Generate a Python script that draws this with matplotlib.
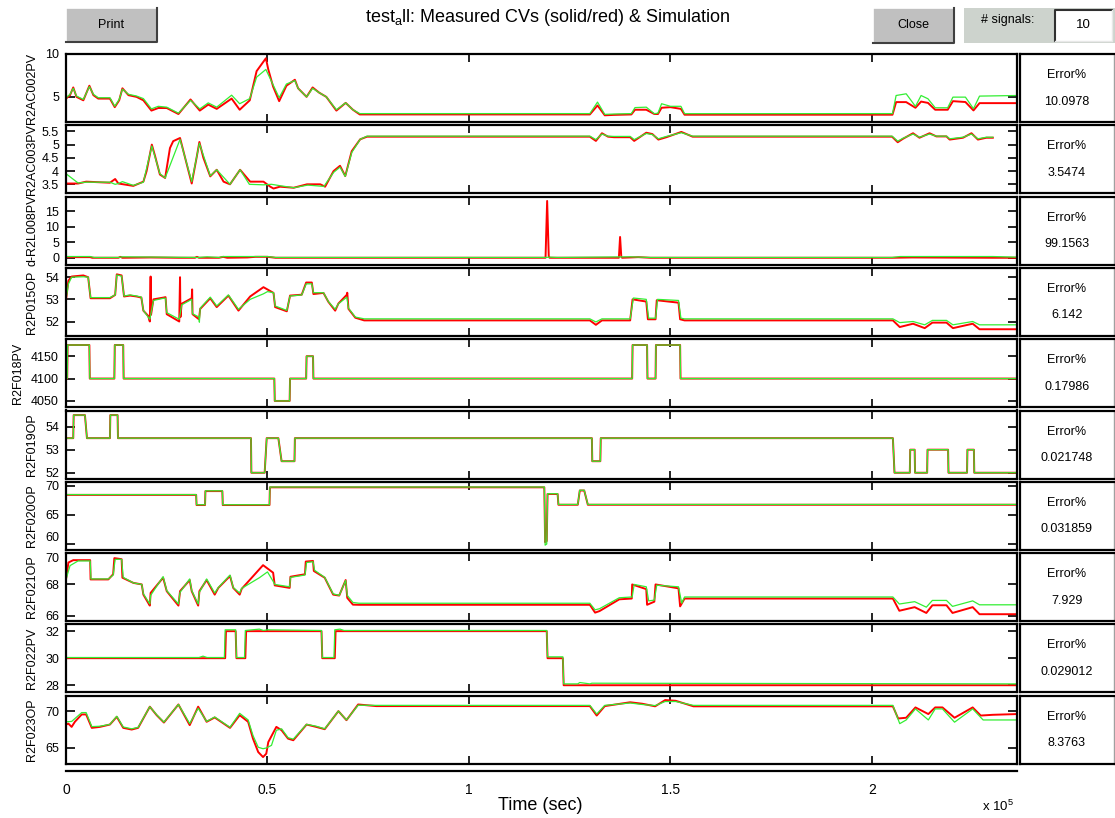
# Measured CVs (red) vs simulation (green), 10 stacked signal panels
import matplotlib
matplotlib.use('Agg')
import matplotlib.pyplot as plt
from matplotlib.patches import Rectangle

plt.rcParams['font.family'] = ['Liberation Sans', 'DejaVu Sans']
plt.rcParams['mathtext.fontset'] = 'custom'
plt.rcParams['mathtext.rm'] = 'Liberation Sans'
plt.rcParams['mathtext.it'] = 'Liberation Sans'

# signal names and error numbers
names = ['R2AC002PV', 'R2AC003PV', 'd-R2L008PV', 'R2P015OP', 'R2F018PV',
         'R2F019OP', 'R2F020OP', 'R2F021OP', 'R2F022PV', 'R2F023OP']
errors = ['10.0978', '3.5474', '99.1563', '6.142', '0.17986',
          '0.021748', '0.031859', '7.929', '0.029012', '8.3763']
yticks = [[5, 10], [3.5, 4, 4.5, 5, 5.5], [0, 5, 10, 15], [52, 53, 54],
          [4050, 4100, 4150], [52, 53, 54], [60, 65, 70], [66, 68, 70],
          [28, 30, 32], [65, 70]]
ylims = [(2.07, 10), (3.16, 5.73), (-2.2, 19.7), (51.35, 54.42), (4036, 4188),
         (51.75, 54.7), (59.0, 70.7), (65.66, 70.0), (27.47, 32.5), (62.87, 72.09)]
xticks = [0, 0.5, 1, 1.5, 2]

# time in units of 1e5 s
t1 = [0, .01, .018, .026, .043, .058, .068, .08, .109, .121, .132, .14, .155, .175, .192, .212, .229, .25,
      .279, .309, .332, .353, .374, .411, .431, .456, .473, .496, .502, .514, .529, .547, .568, .576, .597,
      .612, .628, .646, .671, .694, .712, .729, 1.30, 1.319, 1.337, 1.36, 1.403, 1.412, 1.44, 1.46, 1.469,
      1.478, 1.50, 1.526, 1.535, 2.051, 2.06, 2.085, 2.108, 2.122, 2.139, 2.157, 2.188, 2.201, 2.232,
      2.252, 2.267, 2.36]
m1 = [4.8, 5.2, 6.1, 5.0, 4.6, 6.3, 5.2, 4.8, 4.8, 3.8, 4.6, 6.0, 5.2, 5.0, 4.6, 3.4, 3.7, 3.7, 3.0, 4.7,
      3.4, 4.1, 3.6, 4.8, 3.5, 4.6, 8.0, 9.5, 8.2, 6.2, 4.5, 6.3, 7.0, 6.0, 5.0, 6.1, 5.5, 5.0, 3.4, 4.3,
      3.5, 2.95, 2.95, 4.0, 2.85, 2.9, 2.95, 3.5, 3.5, 3.0, 3.0, 3.73, 3.8, 3.6, 2.92, 2.92, 4.39, 4.39,
      3.73, 4.45, 4.3, 3.5, 3.5, 4.5, 4.4, 3.42, 4.27, 4.27]
s1 = [4.9, 5.3, 6.0, 5.1, 4.7, 6.2, 5.3, 4.9, 4.9, 3.9, 4.7, 5.9, 5.3, 5.1, 4.8, 3.6, 3.9, 3.8, 3.1, 4.6,
      3.6, 4.3, 3.8, 5.2, 4.2, 4.8, 7.3, 8.2, 7.6, 6.4, 4.9, 6.5, 6.9, 6.0, 5.0, 6.0, 5.5, 5.0, 3.5, 4.3,
      3.5, 3.05, 3.05, 4.39, 2.96, 3.0, 3.05, 3.75, 3.8, 3.04, 3.1, 4.2, 3.9, 3.9, 3.04, 3.05, 5.16, 5.36,
      3.89, 5.16, 4.78, 3.73, 3.73, 4.97, 4.97, 3.62, 5.09, 5.16]

t2m = [0, .03, .05, .109, .122, .13, .167, .192, .2, .213, .221, .233, .246, .258, .266, .283, .3, .312,
       .324, .331, .341, .358, .374, .391, .407, .432, .457, .49, .507, .515, .531, .565, .598, .631, .643,
       .664, .68, .693, .709, .73, .747, 1.30, 1.315, 1.33, 1.345, 1.36, 1.40, 1.41, 1.44, 1.455, 1.47,
       1.49, 1.527, 1.555, 2.05, 2.064, 2.077, 2.102, 2.118, 2.143, 2.16, 2.185, 2.193, 2.226, 2.247,
       2.263, 2.284, 2.30]
m2 = [3.53, 3.53, 3.6, 3.56, 3.7, 3.53, 3.44, 3.6, 4.0, 5.0, 4.57, 3.87, 3.74, 4.87, 5.13, 5.25, 4.24,
      3.53, 4.5, 5.1, 4.5, 3.8, 4.05, 3.6, 3.5, 4.05, 3.6, 3.6, 3.41, 3.34, 3.41, 3.37, 3.5, 3.5, 3.41,
      4.0, 4.2, 3.81, 4.75, 5.2, 5.3, 5.3, 5.14, 5.43, 5.3, 5.28, 5.28, 5.14, 5.45, 5.4, 5.19, 5.28, 5.48,
      5.3, 5.3, 5.09, 5.22, 5.43, 5.26, 5.43, 5.31, 5.31, 5.19, 5.26, 5.43, 5.19, 5.26, 5.26]
t2s = [0, .03, .05, .109, .122, .13, .14, .167, .192, .213, .233, .246, .283, .312, .331, .358, .374,
       .407, .432, .455, .49, .51, .53, .565, .60, .64, .664, .68, .693, .709, .73, .747, 1.30, 1.315,
       1.33, 1.345, 1.36, 1.40, 1.41, 1.44, 1.455, 1.47, 1.49, 1.527, 1.555, 2.05, 2.064, 2.077, 2.102,
       2.118, 2.143, 2.16, 2.185, 2.193, 2.226, 2.247, 2.263, 2.284, 2.30]
s2 = [3.9, 3.55, 3.58, 3.58, 3.5, 3.53, 3.6, 3.46, 3.58, 4.95, 3.9, 3.74, 5.2, 3.6, 5.05, 3.82, 4.05,
      3.5, 4.05, 3.5, 3.48, 3.5, 3.45, 3.37, 3.47, 3.42, 3.95, 4.15, 3.8, 4.7, 5.2, 5.32, 5.32, 5.19, 5.4,
      5.32, 5.31, 5.31, 5.19, 5.42, 5.38, 5.22, 5.31, 5.45, 5.32, 5.32, 5.13, 5.24, 5.4, 5.28, 5.4, 5.32,
      5.32, 5.22, 5.28, 5.4, 5.22, 5.28, 5.28]

t3m = [0, .06, .065, .13, .135, .14, .21, .28, .32, .325, .33, .38, .39, .40, .45, .47, .5, .52, 1.19,
       1.194, 1.198, 1.20, 1.372, 1.375, 1.378, 1.38, 1.42, 1.45, 2.05, 2.1, 2.3, 2.36]
m3 = [0.2, 0.2, 0.0, 0.0, 0.3, 0.0, 0.1, 0.0, 0.0, 0.3, 0.0, 0.0, 0.3, 0.0, 0.1, 0.3, 0.3, 0.0, 0.0,
      18.3, 0.5, 0.0, 0.0, 6.7, 0.3, 0.0, 0.2, 0.0, 0.0, 0.1, 0.0, 0.0]
t3s = [0, .06, .07, .13, .14, .33, .35, .38, .39, .5, .52, 1.19, 1.2, 1.22, 1.4, 1.45, 2.05, 2.07, 2.3, 2.36]
s3 = [0.4, 0.4, 0.1, 0.1, 0.3, 0.1, 0.3, 0.1, 0.4, 0.4, 0.1, 0.1, 0.2, 0.1, 0.3, 0.1, 0.1, 0.4, 0.4, 0.2]

t4m = [0, .006, .014, .043, .055, .061, .109, .122, .126, .138, .144, .159, .175, .187, .192, .204, .208,
       .21, .211, .217, .242, .247, .25, .281, .283, .284, .287, .312, .313, .314, .33, .333, .358, .374,
       .403, .428, .457, .49, .515, .519, .548, .556, .585, .596, .61, .614, .639, .651, .668, .676, .697,
       .698, .701, .718, .74, 1.30, 1.315, 1.33, 1.40, 1.406, 1.44, 1.444, 1.463, 1.466, 1.52, 1.524,
       1.535, 2.052, 2.069, 2.102, 2.131, 2.15, 2.185, 2.201, 2.25, 2.267, 2.36]
m4 = [52.97, 53.84, 54.03, 54.08, 54.0, 53.05, 53.05, 53.2, 54.13, 54.08, 53.13, 53.17, 53.13, 53.08,
      52.49, 52.25, 52.0, 54.03, 52.3, 53.0, 53.08, 53.1, 52.33, 52.0, 54.0, 52.2, 52.8, 53.05, 53.45,
      52.33, 52.1, 52.57, 53.05, 52.65, 53.17, 52.49, 53.13, 53.55, 53.29, 52.65, 52.46, 53.17, 53.21,
      53.76, 53.76, 53.24, 53.29, 52.89, 52.49, 52.81, 53.21, 53.3, 52.57, 52.17, 52.05, 52.05, 51.85,
      52.05, 52.05, 53.0, 52.9, 52.1, 52.1, 52.96, 52.85, 52.1, 52.05, 52.05, 51.75, 51.9, 51.7, 51.95,
      51.95, 51.7, 51.9, 51.65, 51.65]
t4s = [0, .006, .014, .043, .055, .061, .109, .122, .126, .138, .144, .159, .175, .187, .192, .208, .217,
       .242, .247, .25, .281, .287, .312, .314, .33, .331, .333, .358, .374, .403, .428, .457, .49, .50,
       .515, .519, .548, .556, .585, .596, .61, .614, .639, .651, .668, .676, .697, .701, .718, .74, 1.30,
       1.315, 1.33, 1.40, 1.408, 1.44, 1.446, 1.463, 1.468, 1.52, 1.526, 1.535, 2.052, 2.069, 2.102,
       2.131, 2.15, 2.185, 2.201, 2.25, 2.267, 2.36]
s4 = [53.0, 53.7, 54.0, 54.02, 54.0, 53.08, 53.08, 53.2, 54.1, 54.05, 53.15, 53.2, 53.15, 53.1, 52.5,
      52.1, 52.95, 53.05, 53.05, 52.4, 52.1, 52.75, 53.0, 52.35, 52.2, 51.97, 52.6, 53.1, 52.7, 53.2,
      52.55, 53.0, 53.25, 53.35, 53.3, 52.7, 52.5, 53.15, 53.2, 53.7, 53.7, 53.3, 53.3, 52.9, 52.55, 52.8,
      53.1, 52.6, 52.2, 52.12, 52.12, 51.98, 52.12, 52.12, 53.06, 53.0, 52.15, 52.15, 53.0, 52.95, 52.15,
      52.12, 52.12, 51.95, 52.0, 51.85, 52.05, 52.05, 51.85, 52.0, 51.85, 51.85]

t5 = [0, .003, .004, .058, .059, .12, .121, .142, .143, .517, .518, .555, .556, .596, .597, .613, .614,
      1.405, 1.406, 1.442, 1.443, 1.463, 1.464, 1.524, 1.525, 2.36]
m5 = [4100, 4100, 4175, 4175, 4100, 4100, 4175, 4175, 4100, 4100, 4050, 4050, 4100, 4100, 4150, 4150,
      4100, 4100, 4175, 4175, 4100, 4100, 4175, 4175, 4100, 4100]
s5 = m5

t6 = [0, .018, .019, .047, .052, .109, .11, .128, .129, .459, .46, .493, .498, .527, .535, .567, .568,
      1.305, 1.306, 1.326, 1.327, 2.052, 2.056, 2.094, 2.095, 2.106, 2.107, 2.137, 2.138, 2.189, 2.19,
      2.236, 2.237, 2.253, 2.254, 2.36]
m6 = [53.5, 53.5, 54.5, 54.5, 53.5, 53.5, 54.5, 54.5, 53.5, 53.5, 52.0, 52.0, 53.5, 53.5, 52.5, 52.5,
      53.5, 53.5, 52.5, 52.5, 53.5, 53.5, 52.0, 52.0, 53.0, 53.0, 52.0, 52.0, 53.0, 53.0, 52.0, 52.0,
      53.0, 53.0, 52.0, 52.0]
s6 = m6

t7 = [0, .323, .324, .345, .346, .388, .389, .505, .506, 1.187, 1.189, 1.193, 1.195, 1.22, 1.222, 1.27,
      1.275, 1.286, 1.295, 2.36]
m7 = [68.45, 68.45, 66.7, 66.7, 69.1, 69.1, 66.7, 66.7, 69.75, 69.75, 60.3, 60.5, 68.6, 68.6, 66.75,
      66.75, 69.2, 69.2, 66.75, 66.75]
s7 = [68.5, 68.5, 66.75, 66.75, 69.15, 69.15, 66.75, 66.75, 69.8, 69.8, 59.8, 60.0, 68.65, 68.65, 66.8,
      66.8, 69.25, 69.25, 66.8, 66.8]

t8m = [0, .006, .018, .06, .061, .105, .117, .12, .138, .14, .167, .188, .192, .204, .208, .21, .241,
       .25, .279, .283, .307, .312, .328, .331, .349, .369, .378, .407, .415, .431, .436, .489, .514,
       .518, .555, .557, .593, .595, .613, .615, .642, .663, .678, .694, .698, .712, .727, 1.30, 1.313,
       1.324, 1.373, 1.404, 1.405, 1.44, 1.442, 1.46, 1.463, 1.52, 1.524, 1.535, 2.052, 2.068, 2.106,
       2.135, 2.15, 2.185, 2.2, 2.25, 2.267, 2.36]
m8 = [68.32, 69.4, 69.55, 69.55, 68.32, 68.32, 68.65, 69.68, 69.61, 68.43, 68.1, 68.0, 67.35, 66.82,
      66.65, 67.46, 68.43, 67.57, 66.65, 67.57, 68.28, 67.57, 66.65, 67.57, 68.28, 67.35, 67.78, 68.54,
      67.78, 67.35, 67.72, 69.23, 68.75, 67.94, 67.78, 68.49, 68.65, 69.46, 69.5, 68.86, 68.43, 67.35,
      67.29, 68.28, 67.14, 66.71, 66.7, 66.7, 66.2, 66.3, 67.05, 67.1, 68.0, 67.7, 66.7, 66.9, 68.0,
      67.75, 66.6, 67.1, 67.1, 66.32, 66.55, 66.18, 66.67, 66.67, 66.18, 66.55, 66.1, 66.1]
t8s = [0, .01, .03, .06, .062, .105, .117, .122, .138, .142, .167, .188, .192, .208, .21, .241, .25,
       .279, .283, .307, .312, .328, .331, .349, .369, .378, .407, .415, .431, .436, .48, .50, .514, .518,
       .555, .557, .593, .597, .613, .617, .642, .663, .678, .694, .698, .712, .727, 1.30, 1.313, 1.324,
       1.373, 1.405, 1.41, 1.44, 1.446, 1.46, 1.466, 1.52, 1.528, 1.535, 2.052, 2.068, 2.106, 2.135,
       2.15, 2.185, 2.2, 2.25, 2.267, 2.36]
s8 = [68.32, 69.2, 69.5, 69.5, 68.35, 68.35, 68.6, 69.6, 69.6, 68.45, 68.1, 68.0, 67.4, 66.75, 67.3,
      68.5, 67.6, 66.75, 67.5, 68.35, 67.6, 66.75, 67.5, 68.35, 67.45, 67.8, 68.6, 67.8, 67.45, 67.75,
      68.43, 68.8, 68.2, 68.0, 67.85, 68.45, 68.6, 69.4, 69.45, 68.9, 68.45, 67.4, 67.3, 68.25, 67.3,
      66.85, 66.8, 66.8, 66.38, 66.45, 67.15, 67.2, 68.0, 67.85, 66.95, 67.0, 67.95, 67.85, 66.8, 67.2,
      67.2, 66.75, 66.9, 66.55, 66.98, 66.98, 66.6, 66.95, 66.7, 66.7]

t9m = [0, .395, .397, .421, .423, .445, .447, .634, .636, .667, .669, 1.193, 1.195, 1.233, 1.235, 2.36]
m9 = [30, 30, 32, 32, 30, 30, 32, 32, 30, 30, 32, 32, 30, 30, 28, 28]
t9s = [0, .33, .34, .35, .393, .395, .421, .423, .443, .445, .48, .49, .5, .634, .636, .665, .667, .68,
       .69, 1.193, 1.195, 1.233, 1.235, 1.27, 1.275, 1.3, 1.305, 2.36]
s9 = [30.05, 30.05, 30.15, 30.05, 30.05, 32.1, 32.1, 30.05, 30.05, 32.05, 32.15, 32.05, 32.1, 32.05,
      30.05, 30.05, 32.1, 32.15, 32.05, 32.05, 30.1, 30.1, 28.1, 28.1, 28.2, 28.1, 28.15, 28.1]

t10m = [0, .006, .014, .022, .039, .05, .064, .084, .109, .126, .142, .163, .179, .208, .225, .243,
        .279, .307, .328, .349, .369, .407, .431, .452, .464, .477, .489, .497, .502, .522, .535, .551,
        .564, .597, .621, .642, .676, .696, .725, .77, 1.30, 1.317, 1.337, 1.40, 1.43, 1.462, 1.487,
        1.513, 1.557, 2.052, 2.065, 2.085, 2.108, 2.14, 2.157, 2.175, 2.205, 2.25, 2.27, 2.30, 2.36]
m10 = [68.18, 68.3, 67.86, 68.55, 69.55, 69.55, 67.73, 67.86, 68.18, 69.23, 67.73, 67.5, 67.73, 70.6,
       69.45, 68.45, 70.9, 68.1, 70.6, 68.55, 69.14, 67.73, 69.45, 68.55, 66.27, 64.45, 63.77, 64.23,
       65.8, 67.86, 67.41, 66.27, 66.05, 68.18, 67.86, 67.55, 70.0, 68.77, 70.9, 70.68, 70.68, 69.4,
       70.68, 71.2, 71.0, 70.65, 71.5, 71.4, 70.65, 70.65, 69.0, 69.1, 70.5, 69.6, 70.5, 70.5, 69.1,
       70.5, 69.4, 69.5, 69.6]
t10s = [0, .014, .039, .05, .064, .084, .109, .126, .142, .163, .179, .208, .225, .243, .279, .307,
        .328, .349, .369, .407, .431, .452, .464, .477, .489, .497, .51, .522, .535, .551, .564, .597,
        .621, .642, .676, .696, .725, .77, 1.30, 1.317, 1.337, 1.40, 1.43, 1.462, 1.487, 1.513, 1.557,
        2.052, 2.069, 2.085, 2.108, 2.14, 2.157, 2.175, 2.205, 2.25, 2.276, 2.30, 2.36]
s10 = [68.55, 68.6, 69.8, 69.8, 67.9, 67.95, 68.2, 69.3, 67.85, 67.6, 67.8, 70.6, 69.5, 68.5, 70.9,
       68.3, 70.4, 68.6, 69.2, 67.8, 69.7, 68.8, 66.7, 65.1, 64.9, 65.0, 65.36, 67.4, 67.6, 66.4, 66.2,
       68.2, 67.95, 67.6, 70.0, 68.8, 70.8, 70.78, 70.78, 69.6, 70.78, 71.1, 70.9, 70.75, 71.3, 71.3,
       70.78, 70.78, 68.3, 68.8, 70.3, 68.8, 70.3, 70.3, 68.5, 70.3, 68.8, 68.8, 68.8]

meas = [(t1, m1), (t2m, m2), (t3m, m3), (t4m, m4), (t5, m5), (t6, m6), (t7, m7), (t8m, m8), (t9m, m9), (t10m, m10)]
sims = [(t1, s1), (t2s, s2), (t3s, s3), (t4s, s4), (t5, s5), (t6, s6), (t7, s7), (t8s, s8), (t9s, s9), (t10s, s10)]

W, H = 1115, 818
fig = plt.figure(figsize=(W / 100, H / 100), dpi=100)


def rect(x0, y0, x1, y1):
    return [x0 / W, 1 - y1 / H, (x1 - x0) / W, (y1 - y0) / H]


X0, X1 = 66, 1017
for i in range(10):
    top = 54 + i * 71.3
    bot = top + 68
    ax = fig.add_axes(rect(X0, top, X1, bot))
    tm, ym = meas[i]
    ts, ys = sims[i]
    ax.plot(tm, ym, color='red', lw=1.4)
    ax.plot(ts, ys, color='#33ee33', lw=0.9)
    ax.set_xlim(0, 2.36)
    ax.set_ylim(*ylims[i])
    ax.set_yticks(yticks[i])
    labels = ax.set_yticklabels([('%g' % v) for v in yticks[i]])
    # keep the "60" / "70" pair between panels 7 and 8 from colliding
    if names[i] == 'R2F020OP':
        labels[0].set_va('bottom')
    if names[i] == 'R2F021OP':
        labels[-1].set_va('top')
    ax.set_xticks(xticks[1:])
    ax.tick_params(axis='x', direction='in', top=True, bottom=True, labelbottom=False,
                   length=6, width=1.2)
    ax.tick_params(axis='y', direction='in', left=True, right=True, length=6.5, width=1.2,
                   labelsize=9, pad=5)
    for sp in ax.spines.values():
        sp.set_linewidth(1.6)
    lx = 18 if names[i] == 'R2F018PV' else 32
    fig.text(lx / W, 1 - (top + 34) / H, names[i], rotation=90, ha='center', va='center',
             fontsize=9)

    # error box at the right
    eb = fig.add_axes(rect(1019.5, top, 1114, bot))
    eb.set_xticks([])
    eb.set_yticks([])
    for sp in eb.spines.values():
        sp.set_linewidth(1.6)
    eb.spines['right'].set_color('#a0a0a0')
    eb.spines['right'].set_linewidth(1)
    eb.text(0.5, 0.69, 'Error%', ha='center', va='center', fontsize=9, transform=eb.transAxes)
    eb.text(0.5, 0.30, errors[i], ha='center', va='center', fontsize=9, transform=eb.transAxes)

# bottom time axis
bx = fig.add_axes(rect(X0, 769, X1, 771))
bx.set_xlim(0, 2.36)
bx.set_xticks(xticks)
bx.set_xticklabels(['0', '0.5', '1', '1.5', '2'])
bx.set_yticks([])
for s in ['top', 'left', 'right']:
    bx.spines[s].set_visible(False)
bx.spines['bottom'].set_linewidth(1.6)
bx.tick_params(axis='x', length=0, labelsize=10, pad=9)
bx.patch.set_visible(False)

# overlay for the window controls and titles
ui = fig.add_axes([0, 0, 1, 1])
ui.set_xlim(0, W)
ui.set_ylim(H, 0)
ui.axis('off')


def button(x0, y0, x1, y1, label, face='#c0c0c0'):
    ui.add_patch(Rectangle((x0, y0), x1 - x0, y1 - y0, facecolor=face, edgecolor='none'))
    ui.plot([x0, x0, x1], [y1, y0, y0], color='white', lw=1.2)
    ui.plot([x0, x1, x1], [y1, y1, y0], color='#404040', lw=1.5)
    ui.text((x0 + x1) / 2, (y0 + y1) / 2, label, ha='center', va='center', fontsize=9)


button(66, 8, 157, 42, 'Print')
button(873, 8, 954, 43, 'Close')
ui.add_patch(Rectangle((964, 8), W - 964, 35, facecolor='#cdd3cd', edgecolor='none'))
ui.text(1008, 20, '# signals:', ha='center', va='center', fontsize=9)
ui.add_patch(Rectangle((1055, 10), 57, 31, facecolor='white', edgecolor='none'))
ui.plot([1055, 1055, 1112], [41, 10, 10], color='#303030', lw=1.5)
ui.plot([1055, 1112, 1112], [41, 41, 10], color='#e8e8e8', lw=1)
ui.text(1083, 25, '10', ha='center', va='center', fontsize=9.5)

ui.text(548, 18, r'test$_{\mathrm{a}}$ll: Measured CVs (solid/red) & Simulation',
        ha='center', va='center', fontsize=13)
ui.text(540, 805, 'Time (sec)', ha='center', va='center', fontsize=13)
ui.text(998, 806, r'x 10$^{5}$', ha='center', va='center', fontsize=9.5)

fig.savefig('out.png', dpi=100)
